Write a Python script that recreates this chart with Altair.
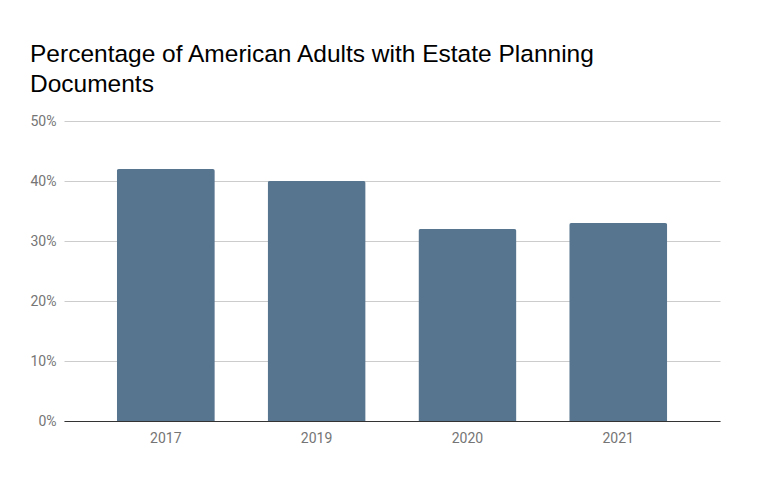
import altair as alt
import pandas as pd

years = ["2017", "2019", "2020", "2021"]
values = [0.42, 0.40, 0.32, 0.33]
title_lines = ["Percentage of American Adults with Estate Planning", "Documents"]
y_ticks = [0, 0.1, 0.2, 0.3, 0.4, 0.5]

df = pd.DataFrame({"year": years, "value": values})

chart = alt.Chart(df).mark_bar(
    color="#58758f", cornerRadiusTopLeft=2, cornerRadiusTopRight=2
).encode(
    x=alt.X("year:N", sort=years, title=None,
            scale=alt.Scale(paddingInner=0.35, paddingOuter=0.35),
            axis=alt.Axis(labelAngle=0, labelFont="Roboto", labelFontSize=14,
                          labelColor="#757575", labelPadding=10, ticks=False,
                          domain=True, domainColor="#333333", domainWidth=1.2,
                          grid=False)),
    y=alt.Y("value:Q", title=None,
            scale=alt.Scale(domain=[0, 0.5], nice=False),
            axis=alt.Axis(values=y_ticks, format=".0%", labelFont="Roboto",
                          labelFontSize=14, labelColor="#757575", labelPadding=8,
                          ticks=False, domain=False, gridColor="#cccccc",
                          gridWidth=1)),
).properties(
    width=656, height=300,
    title=alt.TitleParams(text=title_lines, anchor="start", frame="group",
                          font="Liberation Sans", fontSize=24.5, fontWeight="normal",
                          color="#000000", lineHeight=30, dx=-34, offset=17),
    autosize=alt.AutoSizeParams(type="none"),
    padding={"left": 56, "top": 113, "right": 40, "bottom": 57},
).configure_view(stroke=None)

chart.save("out.html", embed_options={"renderer": "svg", "actions": False})
